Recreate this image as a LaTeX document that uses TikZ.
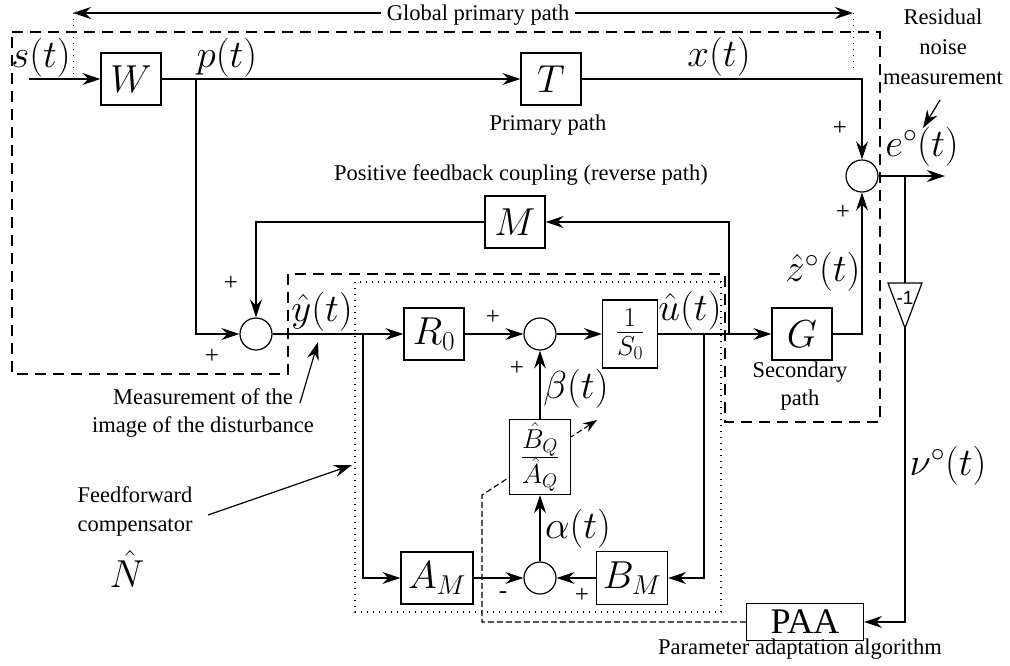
\RequirePackage{fix-cm}
\documentclass[tikz,border=0pt]{standalone}
\usepackage[no-math]{fontspec}
\setmainfont{Liberation Serif}
\newfontfamily\serifx{Liberation Serif}
\newfontfamily\sansf{Liberation Sans}
\usetikzlibrary{arrows.meta}
\begin{document}
\begin{tikzpicture}[x=1pt,y=-1pt,
  wire/.style={line width=1.2pt},
  arr/.style={wire,-{Stealth[length=18pt,width=12pt,inset=6pt]}},
  blk/.style={draw,line width=1.2pt,fill=white,minimum width=60pt,minimum height=52pt,inner sep=0pt,font=\fontsize{39}{44}\selectfont},
  sumc/.style={draw,circle,line width=1.2pt,minimum size=32pt,inner sep=0pt},
  lbl/.style={inner sep=0pt,font=\fontsize{39}{42}\selectfont},
  txt/.style={inner sep=0pt,align=center,font=\serifx\fontsize{22.5}{29}\selectfont},
  sgn/.style={inner sep=0pt,font=\serifx\fontsize{25}{26}\selectfont},
  dashbox/.style={line width=1.1pt,dash pattern=on 11pt off 7pt},
  dotbox/.style={line width=1.3pt,dash pattern=on 1.4pt off 4.6pt},
  adapt/.style={line width=1.1pt,dash pattern=on 6pt off 3pt}]
\useasboundingbox (0,0) rectangle (1010,665);

% enclosing regions
\draw[dashbox] (12,32) -- (880,32) -- (880,422) -- (725,422) -- (725,274) -- (288,274) -- (288,374) -- (12,374) -- cycle;
\draw[dotbox] (355,282) rectangle (721,612);

% global primary path marker
\coordinate (gl) at (73,13);
\coordinate (gr) at (853,13);
\draw[dotbox,line width=1pt] (gl) -- (73,78);
\draw[dotbox,line width=1pt] (gr) -- (853,72);
\draw[wire,{Stealth[length=18pt,width=12pt,inset=6pt]}-{Stealth[length=18pt,width=12pt,inset=6pt]}] (gl) -- (gr);
\node[txt,fill=white,inner xsep=6pt,inner ysep=2pt] (glab) at (478,15) {Global primary path};

% blocks
\node[blk] (W) at (131,79) {$W$};
\node[blk] (T) at (551,79) {$T$};
\node[blk] (M) at (515,222) {$M$};
\node[blk] (R) at (434,334) {$R_0$};
\node[blk,minimum width=55pt,minimum height=68pt] (S) at (630,334) {$\frac{1}{S_0}$};
\node[blk] (G) at (802,334) {$G$};
\node[blk,minimum width=72pt] (AM) at (437,578) {$A_M$};
\node[blk,minimum width=71pt,minimum height=53pt] (BM) at (632,578) {$B_M$};
\node[blk,minimum width=117pt,minimum height=37pt,font=\serifx\fontsize{36}{38}\selectfont] (PAA) at (805,622) {PAA};

% adaptation dashed arrow (under BQ box)
\coordinate (ac) at (482,495);
\coordinate (aend) at (597,420);
\draw[adapt,-{Stealth[length=14pt,width=10pt,inset=5pt]}] (PAA.west) -| (ac) -- (aend);
\node[blk,minimum width=61pt,minimum height=75pt] (Q) at (540,457) {$\frac{\hat{B}_Q}{\hat{A}_Q}$};

% summing junctions
\node[sumc] (s1) at (256,334) {};
\node[sumc] (s2) at (862,176) {};
\node[sumc] (s3) at (540,334) {};
\node[sumc] (s4) at (540,578) {};

% -1 gain
\coordinate (negT) at (905,283);
\coordinate (negB) at (905,328);
\draw[wire] (888,283) -- (922,283) -- (negB) -- cycle;
\node[inner sep=0pt,font=\sansf\fontsize{19}{20}\selectfont] (neg) at (905,298) {-1};

% connectors
\coordinate (sin) at (29,79);
\coordinate (pb) at (196,79);
\coordinate (yb) at (363,334);
\coordinate (ub) at (704,334);
\coordinate (mb) at (729,334);
\coordinate (eb) at (905,176);
\coordinate (eout) at (945,176);
\draw[arr] (sin) -- (W);
\draw[arr] (W) -- (T);
\draw[arr] (T.east) -| (s2.north);
\draw[arr] (pb) |- (s1.west);
\draw[arr] (M.west) -| (s1.north);
\draw[arr] (s1) -- (R);
\draw[arr] (yb) |- (AM.west);
\draw[arr] (R) -- (s3);
\draw[arr] (s3) -- (S);
\draw[arr] (S.east |- G.west) -- (G.west);
\draw[arr] (mb) |- (M.east);
\draw[arr] (ub) |- (BM.east);
\draw[arr] (G.east) -| (s2.south);
\draw[arr] (AM) -- (s4);
\draw[arr] (BM) -- (s4);
\draw[arr] (s4) -- (Q);
\draw[arr] (Q) -- (s3);
\draw[arr] (s2) -- (eout);
\draw[wire] (eb) -- (negT);
\draw[arr] (negB) |- (PAA.east);

% signal labels
\node[lbl] (ls) at (41,58) {$s(t)$};
\node[lbl] (lp) at (227,58) {$p(t)$};
\node[lbl] (lx) at (719,57) {$x(t)$};
\node[lbl] (le) at (922,147) {$e^{\circ}(t)$};
\node[lbl] (lz) at (823,272) {$\hat{z}^{\circ}(t)$};
\node[lbl] (ly) at (322,312) {$\hat{y}(t)$};
\node[lbl] (lu) at (690,311) {$\hat{u}(t)$};
\node[lbl] (lb) at (576,389) {$\beta(t)$};
\node[lbl] (la) at (578,529) {$\alpha(t)$};
\node[lbl] (lnu) at (948,466) {$\nu^{\circ}(t)$};
\node[lbl] (lN) at (127,569) {$\hat{N}$};

% signs
\node[sgn] (p1) at (840,128) {+};
\node[sgn] (p2) at (843,212) {+};
\node[sgn] (p3) at (231,283) {+};
\node[sgn] (p4) at (212,356) {+};
\node[sgn] (p5) at (493,317) {+};
\node[sgn] (p6) at (517,368) {+};
\node[sgn] (p7) at (582,595) {+};
\node[sgn] (m1) at (503,595) {-};

% texts
\node[txt] (tprim) at (548,125) {Primary path};
\node[txt] (tfb) at (521,175) {Positive feedback coupling (reverse path)};
\node[txt,font=\serifx\fontsize{22.5}{30}\selectfont] (tres) at (943,47) {Residual\\noise\\measurement};
\node[txt,font=\serifx\fontsize{22.5}{28}\selectfont] (tsec) at (800,386) {Secondary\\path};
\node[txt,font=\serifx\fontsize{22.5}{28}\selectfont] (tmeas) at (203,413) {Measurement of the\\image of the disturbance};
\node[txt,font=\serifx\fontsize{22.5}{29}\selectfont] (tff) at (135,511) {Feedforward\\compensator};
\node[txt] (tpaa) at (800,649) {Parameter adaptation algorithm};

% annotation arrows
\coordinate (r1a) at (940,100);
\coordinate (r1b) at (923,128);
\coordinate (m1a) at (300,403);
\coordinate (m1b) at (318,342);
\coordinate (f1a) at (208,515);
\coordinate (f1b) at (352,465);
\draw[arr] (r1a) -- (r1b);
\draw[arr] (m1a) -- (m1b);
\draw[arr] (f1a) -- (f1b);
\end{tikzpicture}
\end{document}
